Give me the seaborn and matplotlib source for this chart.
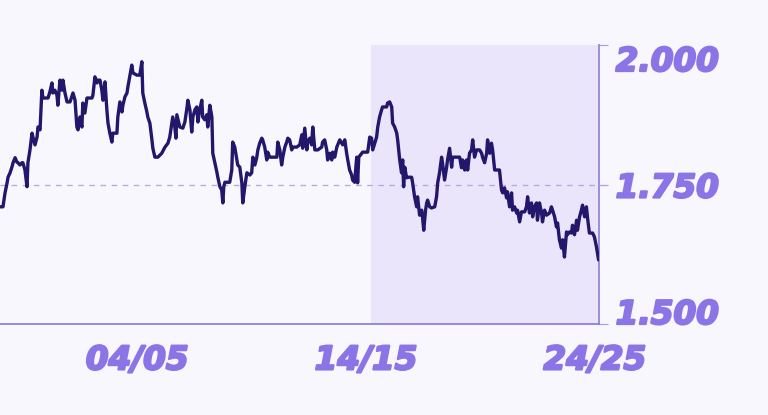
import matplotlib
matplotlib.use("Agg")
import matplotlib.pyplot as plt
import matplotlib.patheffects as pe
import seaborn as sns
import pandas as pd
import numpy as np

# --- data (years counted from the 98/99 season) ---
BASE_YEAR = 1998
season_offset = [
    0.00, 0.13, 0.22, 0.31, 0.35, 0.44, 0.52, 0.57, 0.66, 0.74, 0.79, 0.87, 0.96, 1.00,
    1.09, 1.18, 1.22, 1.31, 1.40, 1.44, 1.53, 1.62, 1.66, 1.75, 1.83, 1.88, 2.10, 2.18,
    2.27, 2.31, 2.40, 2.49, 2.53, 2.62, 2.71, 2.75, 2.84, 2.93, 3.06, 3.19, 3.28, 3.36,
    3.41, 3.49, 3.58, 3.62, 3.71, 3.80, 4.02, 4.06, 4.15, 4.24, 4.28,
    4.37, 4.45, 4.50, 4.59, 4.67, 4.72, 4.80, 4.89, 4.93, 5.11, 5.15, 5.24, 5.33, 5.37,
    5.46, 5.55, 5.59, 5.68, 5.76, 5.81, 5.98, 6.11, 6.20, 6.24, 6.33, 6.42, 6.46, 6.55,
    6.64, 6.68, 6.77, 6.90, 7.07, 7.21, 7.34, 7.42, 7.51, 7.55, 7.64, 7.69, 7.73, 7.86,
    7.99, 8.08, 8.17, 8.21, 8.30, 8.38, 8.43, 8.52, 8.60, 8.65,
    8.73, 8.82, 8.86, 8.95, 9.04, 9.08, 9.17, 9.26, 9.30, 9.39, 9.48, 9.52, 9.61, 9.69,
    9.74, 9.78, 9.83, 10.04, 10.13, 10.17, 10.26, 10.35, 10.39, 10.48, 10.57, 10.61,
    10.70, 10.79, 10.92, 11.00, 11.05, 11.14, 11.22, 11.27, 11.35, 11.44, 11.48, 11.57,
    11.66, 11.70, 11.79, 11.92, 12.10, 12.14, 12.23, 12.31, 12.36, 12.45, 12.53, 12.58,
    12.66, 12.75, 12.79, 12.97,
    13.10, 13.19, 13.23, 13.32, 13.41, 13.45, 13.54, 13.62, 13.67, 13.76, 13.89, 14.06,
    14.10, 14.19, 14.28, 14.32, 14.41, 14.50, 14.54, 14.63, 14.72, 14.76, 14.85, 14.98,
    15.07, 15.15, 15.20, 15.28, 15.37, 15.41, 15.50, 15.59, 15.63, 15.68, 15.81, 15.85,
    16.07, 16.16, 16.24, 16.29, 16.38, 16.46, 16.51, 16.59, 16.68, 16.72, 16.81, 16.90,
    16.94, 17.03, 17.12, 17.16, 17.25, 17.34, 17.38,
    17.47, 17.55, 17.60, 17.64, 17.69, 17.77, 17.82, 17.99, 18.03, 18.12, 18.21, 18.25,
    18.34, 18.43, 18.47, 18.52, 18.60, 18.65, 18.69, 18.78, 18.86, 19.00, 19.08, 19.13,
    19.21, 19.30, 19.34, 19.43, 19.52, 19.56, 19.65, 19.74, 19.78, 19.96, 20.09, 20.17,
    20.22, 20.31, 20.39, 20.44, 20.52, 20.61, 20.66, 20.74, 20.83, 20.96, 21.05, 21.09,
    21.18, 21.27, 21.31, 21.40, 21.48, 21.53, 21.62, 21.75,
    21.83, 21.92, 21.97, 22.05, 22.14, 22.18, 22.27, 22.36, 22.40, 22.49, 22.58, 22.62,
    22.71, 22.79, 22.93, 23.01, 23.06, 23.14, 23.23, 23.28, 23.36, 23.45, 23.49, 23.58,
    23.67, 23.71, 23.80, 23.89, 24.02, 24.10, 24.15, 24.24, 24.32, 24.37, 24.45, 24.54,
    24.59, 24.67, 24.76, 24.80, 24.89, 24.98, 25.02, 25.11, 25.20, 25.24, 25.33, 25.41,
    25.46, 25.55, 25.63, 25.68, 25.76, 25.90, 25.98, 26.07, 26.16,
]
rate = [
    1.710, 1.710, 1.735, 1.753, 1.763, 1.771, 1.781, 1.789, 1.798, 1.790, 1.789, 1.785, 1.789, 1.789,
    1.776, 1.746, 1.789, 1.812, 1.842, 1.835, 1.821, 1.835, 1.853, 1.848, 1.919, 1.905, 1.905, 1.916,
    1.932, 1.914, 1.919, 1.910, 1.892, 1.937, 1.919, 1.937, 1.914, 1.898, 1.898, 1.914, 1.901, 1.853,
    1.848, 1.871, 1.853, 1.896, 1.878, 1.905, 1.905, 1.910, 1.943, 1.932, 1.937,
    1.937, 1.919, 1.901, 1.934, 1.884, 1.860, 1.842, 1.826, 1.842, 1.842, 1.871, 1.898, 1.880, 1.892,
    1.907, 1.914, 1.925, 1.946, 1.964, 1.950, 1.946, 1.946, 1.970, 1.914, 1.896, 1.880, 1.871, 1.860,
    1.830, 1.815, 1.799, 1.799, 1.806, 1.817, 1.824, 1.835, 1.860, 1.871, 1.853, 1.833, 1.875, 1.853,
    1.851, 1.862, 1.887, 1.901, 1.884, 1.844, 1.871, 1.884, 1.889, 1.862,
    1.884, 1.901, 1.871, 1.866, 1.875, 1.853, 1.892, 1.871, 1.806, 1.789, 1.772, 1.763, 1.746, 1.740,
    1.717, 1.746, 1.754, 1.754, 1.776, 1.826, 1.817, 1.794, 1.785, 1.781, 1.753, 1.717,
    1.746, 1.771, 1.767, 1.771, 1.799, 1.785, 1.798, 1.812, 1.824, 1.833, 1.830, 1.817,
    1.794, 1.808, 1.799, 1.799, 1.799, 1.826, 1.812, 1.785, 1.799, 1.817, 1.826, 1.833,
    1.830, 1.812, 1.817, 1.817,
    1.821, 1.839, 1.815, 1.851, 1.812, 1.826, 1.833, 1.821, 1.853, 1.812, 1.812, 1.817,
    1.826, 1.830, 1.812, 1.794, 1.806, 1.794, 1.808, 1.799, 1.817, 1.821, 1.830, 1.821,
    1.830, 1.806, 1.794, 1.776, 1.767, 1.758, 1.754, 1.799, 1.753, 1.799, 1.806, 1.808,
    1.808, 1.835, 1.833, 1.812, 1.824, 1.835, 1.853, 1.871, 1.884, 1.889, 1.889, 1.889,
    1.896, 1.898, 1.889, 1.860, 1.853, 1.842, 1.830,
    1.794, 1.771, 1.794, 1.746, 1.781, 1.762, 1.763, 1.763, 1.754, 1.728, 1.710, 1.728,
    1.695, 1.704, 1.690, 1.668, 1.704, 1.717, 1.722, 1.710, 1.708, 1.710, 1.728, 1.753,
    1.771, 1.799, 1.789, 1.758, 1.781, 1.794, 1.815, 1.781, 1.799, 1.799, 1.799, 1.780,
    1.794, 1.776, 1.794, 1.776, 1.806, 1.812, 1.830, 1.799, 1.812, 1.812, 1.806, 1.799,
    1.789, 1.806, 1.830, 1.806, 1.824, 1.812, 1.776, 1.776,
    1.776, 1.740, 1.735, 1.744, 1.726, 1.737, 1.710, 1.735, 1.704, 1.710, 1.699, 1.704,
    1.683, 1.701, 1.701, 1.710, 1.728, 1.699, 1.717, 1.692, 1.710, 1.717, 1.686, 1.717,
    1.699, 1.683, 1.704, 1.695, 1.699, 1.710, 1.704, 1.692, 1.674, 1.681, 1.651, 1.636,
    1.651, 1.620, 1.665, 1.660, 1.665, 1.663, 1.677, 1.660, 1.686, 1.668, 1.692, 1.704,
    1.713, 1.692, 1.710, 1.690, 1.663, 1.663, 1.656, 1.638, 1.615,
]
tick_years = [2004, 2014, 2024]
tick_labels = ['04/05', '14/15', '24/25']
value_ticks = [1.500, 1.750, 2.000]
highlight_start = 2014.2
x_end = 2024.18

df = pd.DataFrame({'season': BASE_YEAR + np.array(season_offset), 'rate': rate})

# --- styling ---
sns.set_theme(style="white")
plt.rcParams['font.family'] = ['DejaVu Sans']

BG = '#f8f7fd'
LINE = '#22176b'
PURPLE = '#8b74e6'
TICK = '#aa9cdb'

fig = plt.figure(figsize=(7.68, 4.15), dpi=100, facecolor=BG)
ax = fig.add_axes([0.0, 91 / 415, 599 / 768, 279 / 415])
ax.set_facecolor(BG)

# shaded recent decade
ax.axvspan(highlight_start, x_end, color='#ebe5fb', lw=0, zorder=0)
# dashed reference level
ax.axhline(1.75, xmin=0, xmax=607 / 599, color='#b6abe0', lw=1, dashes=(4, 4),
           zorder=1, clip_on=False)

sns.lineplot(data=df, x='season', y='rate', ax=ax, color=LINE, lw=2.4, zorder=3)

ax.set_xlim(BASE_YEAR, x_end)
ax.set_ylim(1.5, 2.0)
ax.set_xlabel('')
ax.set_ylabel('')

ax.yaxis.tick_right()
ax.set_yticks(value_ticks, [f'{v:.3f}' for v in value_ticks])
ax.set_xticks(tick_years, tick_labels)

for side in ['left', 'top']:
    ax.spines[side].set_visible(False)
ax.spines['bottom'].set_color('#8a73e2')
ax.spines['bottom'].set_linewidth(1.2)
ax.spines['right'].set_color('#9d8ddc')
ax.spines['right'].set_linewidth(1.4)

ax.tick_params(axis='y', direction='out', length=6.5, width=0.8, color=TICK,
               pad=5.5, labelsize=23.5, labelcolor=PURPLE)
ax.tick_params(axis='x', direction='out', length=6.5, width=0.8, color=TICK,
               pad=7.5, labelsize=23.5, labelcolor=PURPLE)

# heavy italic labels: bold oblique plus a thin stroke to thicken the glyphs
heavy = [pe.withStroke(linewidth=1.6, foreground=PURPLE)]
for lab in ax.get_xticklabels() + ax.get_yticklabels():
    lab.set_fontweight('bold')
    lab.set_fontstyle('oblique')
    lab.set_path_effects(heavy)

ylabs = ax.get_yticklabels()
ylabs[0].set_va('baseline')
ylabs[2].set_va('top')

fig.savefig('out.png', dpi=100, facecolor=BG)
